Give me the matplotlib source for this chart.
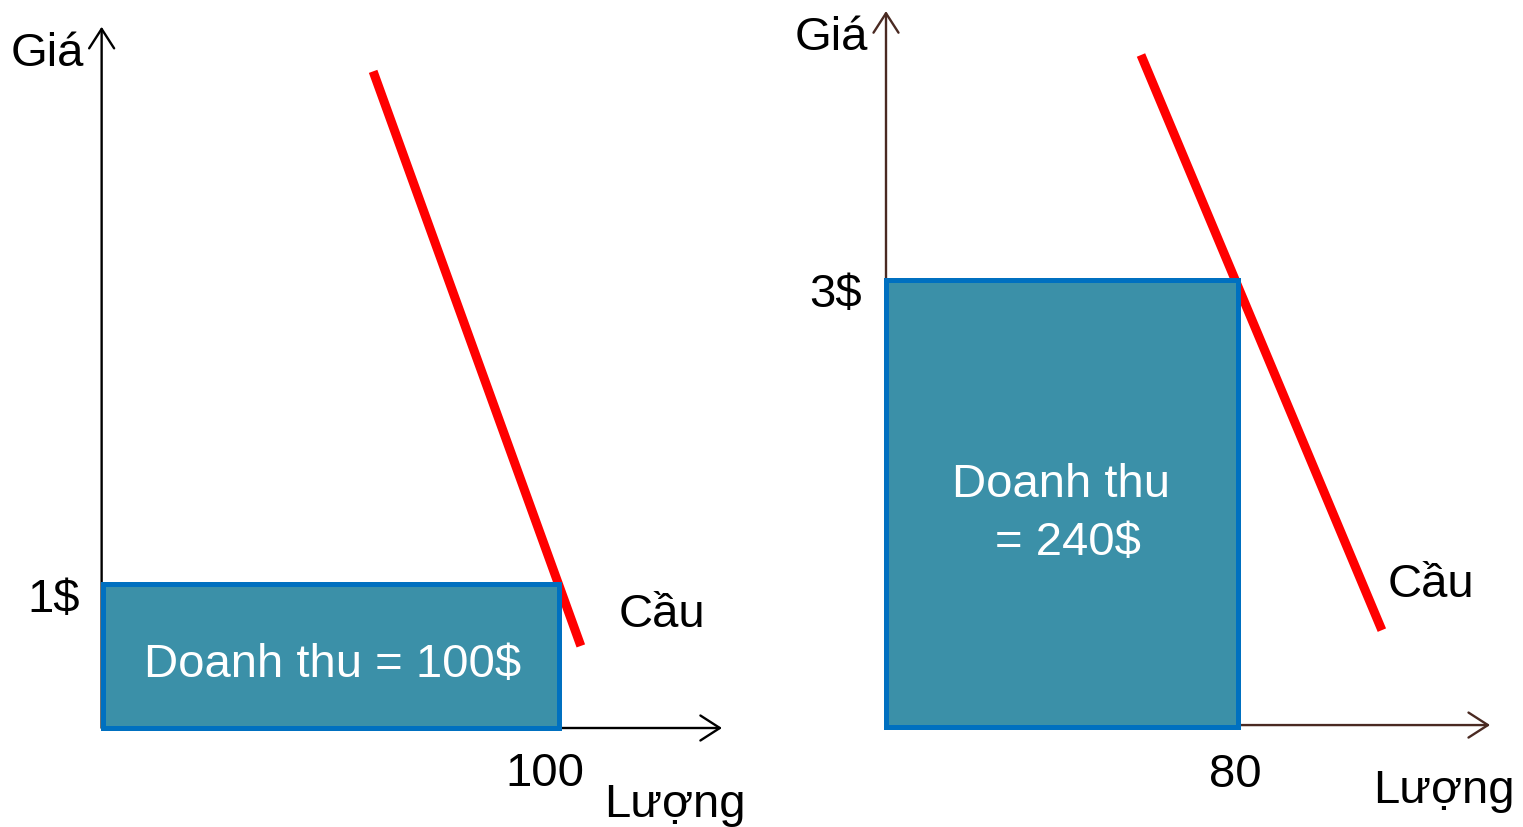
import matplotlib
matplotlib.use("Agg")
import matplotlib.pyplot as plt
from matplotlib.patches import Rectangle

plt.rcParams['font.family'] = ['Liberation Sans', 'DejaVu Sans']

# Left panel: low price, inelastic demand
left_quantity = 100
left_price = 1
left_demand_q = [59.3, 104.9]
left_demand_p = [4.56, 0.57]

# Right panel: higher price
right_quantity = 80
right_price = 3
right_demand_q = [57.95, 112.7]
right_demand_p = [4.51, 0.65]

price_label = "Giá"
quantity_label = "Lượng"
demand_label = "Cầu"

W, H = 1523, 828
fig = plt.figure(figsize=(W / 100, H / 100), dpi=100)

FS = 34
FILL = '#3B90A8'
EDGE = '#0070C0'
RED = '#FF0000'


def arrow(ax, start, tip, color):
    ann = ax.annotate('', xy=tip, xytext=start,
                      arrowprops=dict(arrowstyle='->,head_length=0.7,head_width=0.45',
                                      mutation_scale=20, lw=1.7, color=color,
                                      shrinkA=0, shrinkB=0),
                      annotation_clip=False)
    ann.set_zorder(1)
    ann.arrow_patch.set_zorder(1)


# ---------- left panel ----------
ax1 = fig.add_axes([103 / W, 99 / H, 640 / W, 720 / H])
ax1.set_xlim(0, 640 / 4.555)
ax1.set_ylim(0, 5)
ax1.axis('off')

ax1.plot(left_demand_q, left_demand_p, color=RED, lw=6.5,
         solid_capstyle='butt', zorder=2, clip_on=False)
ax1.add_patch(Rectangle((0, 0), left_quantity, left_price, facecolor=FILL,
                        edgecolor=EDGE, lw=3.6, zorder=3, clip_on=False))
arrow(ax1, (-0.3, 0), (-0.3, 4.87), 'black')
arrow(ax1, (0, 0), (135.9, 0), 'black')

ax1.text(-4.2, 4.604, price_label, fontsize=FS, ha='right', va='baseline')
ax1.text(-5.05, 0.8125, f"{left_price}$", fontsize=FS, ha='right', va='baseline')
ax1.text(97.0, -0.396, f"{left_quantity}", fontsize=FS, ha='center', va='baseline')
ax1.text(110.0, -0.611, quantity_label, fontsize=FS, ha='left', va='baseline')
ax1.text(113.1, 0.708, demand_label, fontsize=FS, ha='left', va='baseline')
ax1.text(50.3, 0.361, f"Doanh thu = {left_quantity * left_price}$", fontsize=FS,
         color='white', ha='center', va='baseline', zorder=4)

# ---------- right panel ----------
BROWN = '#4A2A22'
ax2 = fig.add_axes([886 / W, 100 / H, 620 / W, 720 / H])
ax2.set_xlim(0, 620 / 4.4)
ax2.set_ylim(0, 720 / 149)
ax2.axis('off')

ax2.plot(right_demand_q, right_demand_p, color=RED, lw=6.5,
         solid_capstyle='butt', zorder=2, clip_on=False)
ax2.add_patch(Rectangle((0, 0), right_quantity, right_price, facecolor=FILL,
                        edgecolor=EDGE, lw=3.6, zorder=3, clip_on=False))
arrow(ax2, (0, 0), (0, 4.805), BROWN)
arrow(ax2, (0, 0.013), (137.3, 0.013), BROWN)

ax2.text(-4.1, 4.55, price_label, fontsize=FS, ha='right', va='baseline')
ax2.text(-5.45, 2.826, f"{right_price}$", fontsize=FS, ha='right', va='baseline')
ax2.text(79.3, -0.396, f"{right_quantity}", fontsize=FS, ha='center', va='baseline')
ax2.text(110.7, -0.503, quantity_label, fontsize=FS, ha='left', va='baseline')
ax2.text(113.9, 0.879, demand_label, fontsize=FS, ha='left', va='baseline')
ax2.text(39.8, 1.550, "Doanh thu", fontsize=FS, color='white',
         ha='center', va='baseline', zorder=4)
ax2.text(41.4, 1.161, f"= {right_quantity * right_price}$", fontsize=FS,
         color='white', ha='center', va='baseline', zorder=4)

fig.savefig('out.png', dpi=100, facecolor='white')
